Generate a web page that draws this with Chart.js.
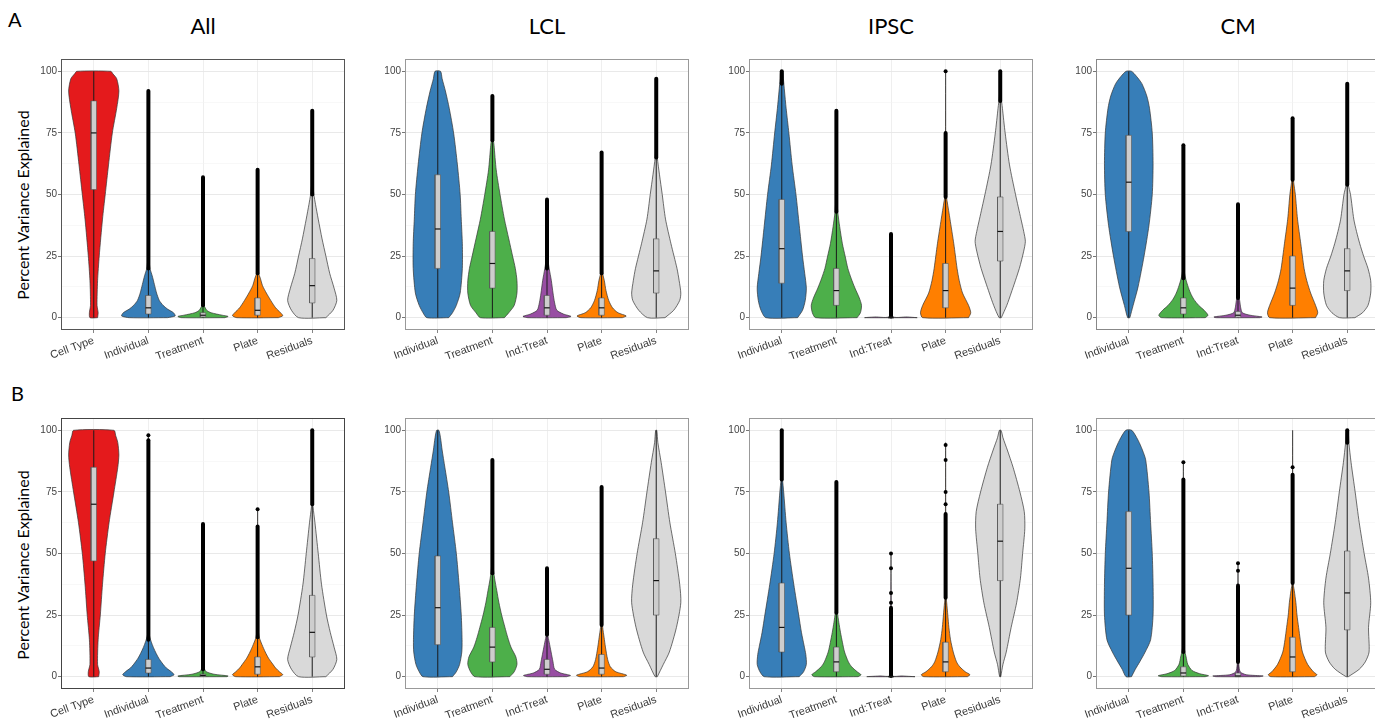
<!DOCTYPE html>
<html>
<head>
<meta charset="utf-8">
<script src="https://cdn.jsdelivr.net/npm/chart.js@4.4.1/dist/chart.umd.min.js"></script>
<style>
  body { margin: 0; width: 1375px; height: 721px; overflow: hidden; background: #fff; position: relative; }
  .panel { position: absolute; }
  .lbl { position: absolute; font-family: Lato, 'Liberation Sans', sans-serif; color: #000; white-space: nowrap; }
  .tag { font-size: 20px; }
  .ctitle { font-size: 22px; transform: translateX(-50%); }
  .ytitle { font-size: 16px; transform: translate(-50%, -50%) rotate(-90deg); }
</style>
</head>
<body>
<div class="lbl tag" style="left:8px;top:7px">A</div>
<div class="lbl tag" style="left:11px;top:381px">B</div>
<div class="lbl ctitle" style="left:203px;top:12px">All</div>
<div class="lbl ctitle" style="left:547px;top:12px">LCL</div>
<div class="lbl ctitle" style="left:891px;top:12px">IPSC</div>
<div class="lbl ctitle" style="left:1238px;top:12px">CM</div>
<div class="lbl ytitle" style="left:22px;top:205px">Percent Variance Explained</div>
<div class="lbl ytitle" style="left:22px;top:565px">Percent Variance Explained</div>

<script>
// Categories
const CATS_ALL = ['Cell Type', 'Individual', 'Treatment', 'Plate', 'Residuals'];
const CATS_TYPE = ['Individual', 'Treatment', 'Ind:Treat', 'Plate', 'Residuals'];
const Y_TICKS = [0, 12.5, 25, 37.5, 50, 62.5, 75, 87.5, 100];

const COLORS = {
    'Cell Type': '#E41A1C',
    'Individual': '#377EB8',
    'Treatment': '#4DAF4A',
    'Ind:Treat': '#984EA3',
    'Plate': '#FF7F00',
    'Residuals': '#D9D9D9'
};

// violin profiles: [value, half width] from bottom to top, one list per category

// A / All
const A_ALL_VIOLIN = [
    [[0,0.07],[2,0.08],[5,0.06],[15,0.07],[25,0.10],[40,0.16],[50,0.21],[62,0.27],[75,0.34],[85,0.42],[92,0.46],[97,0.42],[99,0.35],[100,0.31]],
    [[0,0.35],[0.7,0.49],[2,0.46],[3.5,0.35],[5,0.27],[7,0.20],[10,0.15],[13.5,0.11],[17,0.07],[20,0.03],[24,0.01],[30,0.004],[92,0.002]],
    [[0,0.40],[0.5,0.46],[1,0.35],[2,0.15],[3,0.07],[5,0.02],[8,0.006],[57,0]],
    [[0,0.38],[0.8,0.46],[2,0.42],[4,0.33],[7,0.24],[10,0.16],[13,0.09],[16,0.05],[18,0.02],[25,0.005],[60,0]],
    [[0,0.25],[3,0.38],[7,0.45],[12,0.40],[18,0.32],[25,0.25],[32,0.18],[40,0.11],[46,0.06],[50,0.03],[55,0.01],[84,0.003]]
];
const A_ALL_Q1 = [52, 1.5, 0.3, 1, 6];
const A_ALL_MED = [75, 4, 1, 3, 13];
const A_ALL_Q3 = [88, 9, 2, 8, 24];
const A_ALL_WHI = [100, 20, 5, 18, 50];
const A_ALL_OUT = [null, 92, 57, 60, 84];
const A_ALL_PTS = [[], [], [], [], []];

// A / LCL
const A_LCL_VIOLIN = [
    [[0,0.2],[2,0.27],[5,0.34],[10,0.41],[20,0.45],[30,0.45],[40,0.43],[50,0.41],[62,0.36],[75,0.29],[85,0.21],[92,0.14],[97,0.08],[100,0.05]],
    [[0,0.22],[2,0.30],[5,0.40],[10,0.45],[15,0.45],[20,0.42],[25,0.37],[32,0.30],[40,0.22],[50,0.14],[60,0.07],[70,0.03],[74,0.01],[90,0.002]],
    [[0,0.35],[0.5,0.44],[1.5,0.30],[3,0.18],[6,0.14],[10,0.11],[15,0.08],[20,0.04],[25,0.01],[48,0]],
    [[0,0.38],[0.7,0.45],[2,0.30],[4,0.20],[7,0.13],[11,0.08],[15,0.05],[18,0.02],[25,0.005],[67,0]],
    [[0,0.16],[3,0.32],[7,0.43],[10,0.45],[15,0.42],[20,0.38],[30,0.27],[40,0.17],[50,0.11],[58,0.06],[65,0.02],[72,0.006],[97,0]]
];
const A_LCL_Q1 = [20, 12, 1, 1, 10];
const A_LCL_MED = [36, 22, 4, 4, 19];
const A_LCL_Q3 = [58, 35, 9, 8, 32];
const A_LCL_WHI = [100, 72, 20, 18, 65];
const A_LCL_OUT = [null, 90, 48, 67, 97];
const A_LCL_PTS = [[], [], [], [], []];

// A / IPSC
const A_IPSC_VIOLIN = [
    [[0,0.29],[3,0.38],[7,0.43],[12,0.45],[18,0.42],[25,0.38],[37.5,0.32],[50,0.26],[62,0.19],[75,0.13],[85,0.08],[92,0.05],[97,0.03],[100,0.02]],
    [[0,0.38],[2,0.44],[5,0.46],[8,0.42],[12,0.34],[16,0.27],[20,0.21],[25,0.16],[30,0.11],[37,0.06],[43,0.025],[50,0.008],[84,0]],
    [[0,0.48],[0.3,0.3],[0.8,0.02],[34,0]],
    [[0,0.42],[2,0.46],[5,0.42],[10,0.31],[15,0.25],[20,0.21],[30,0.15],[40,0.08],[47,0.03],[50,0.01],[75,0.002],[100,0]],
    [[0,0.02],[5,0.12],[10,0.2],[20,0.35],[27,0.43],[31,0.46],[35,0.43],[40,0.38],[50,0.28],[62,0.17],[75,0.09],[85,0.04],[90,0.015],[100,0.005]]
];
const A_IPSC_Q1 = [14, 5, 0, 4, 23];
const A_IPSC_MED = [28, 11, 0, 11, 35];
const A_IPSC_Q3 = [48, 20, 0.2, 22, 49];
const A_IPSC_WHI = [95, 43, 0.5, 49, 88];
const A_IPSC_OUT = [100, 84, 34, 75, 100];
const A_IPSC_PTS = [[], [], [], [100], []];

// A / CM
const A_CM_VIOLIN = [
    [[0,0.02],[5,0.08],[12.5,0.17],[25,0.28],[37.5,0.37],[50,0.43],[62.5,0.445],[75,0.43],[85,0.38],[90,0.33],[95,0.24],[98,0.14],[100,0.05]],
    [[0,0.40],[1,0.45],[3,0.38],[5,0.28],[7.5,0.19],[10,0.13],[13,0.08],[16,0.04],[20,0.01],[70,0]],
    [[0,0.40],[0.3,0.44],[1,0.22],[2,0.08],[4,0.05],[7,0.03],[9,0.01],[46,0]],
    [[0,0.42],[2,0.46],[5,0.42],[10,0.33],[15,0.26],[20,0.21],[30,0.15],[40,0.09],[50,0.05],[55,0.02],[60,0.006],[81,0]],
    [[0,0.14],[2,0.28],[5,0.38],[10,0.43],[15,0.43],[20,0.38],[25,0.30],[30,0.23],[35,0.17],[40,0.12],[50,0.06],[54,0.02],[60,0.006],[95,0]]
];
const A_CM_Q1 = [35, 1.5, 0.2, 5, 11];
const A_CM_MED = [55, 4, 1, 12, 19];
const A_CM_Q3 = [74, 8, 2.5, 25, 28];
const A_CM_WHI = [100, 16, 8, 56, 54];
const A_CM_OUT = [null, 70, 46, 81, 95];
const A_CM_PTS = [[], [], [], [], []];

// B / All
const B_ALL_VIOLIN = [
    [[0,0.09],[2,0.10],[5,0.07],[15,0.08],[25,0.12],[37.5,0.16],[50,0.21],[62.5,0.28],[75,0.37],[85,0.44],[90,0.46],[95,0.44],[98,0.40],[100,0.37]],
    [[0,0.40],[0.8,0.47],[2,0.42],[3.5,0.33],[5,0.27],[7.5,0.19],[10,0.13],[12.5,0.08],[15,0.04],[18,0.01],[98,0]],
    [[0,0.44],[0.3,0.46],[1,0.2],[2,0.06],[3,0.03],[5,0.01],[62,0]],
    [[0,0.40],[0.8,0.46],[2,0.40],[3.5,0.33],[5,0.28],[7.5,0.20],[10,0.14],[13,0.08],[16,0.03],[20,0.008],[68,0]],
    [[0,0.25],[3,0.38],[7,0.45],[12,0.40],[18,0.33],[25,0.26],[37.5,0.17],[50,0.11],[62.5,0.05],[69,0.015],[75,0.004],[100,0]]
];
const B_ALL_Q1 = [47, 1.5, 0.1, 1, 8];
const B_ALL_MED = [70, 3.5, 0.5, 4, 18];
const B_ALL_Q3 = [85, 7, 1, 8, 33];
const B_ALL_WHI = [100, 15, 3, 16, 70];
const B_ALL_OUT = [null, 96, 62, 61, 100];
const B_ALL_PTS = [[], [98], [], [68], []];

// B / LCL
const B_LCL_VIOLIN = [
    [[0,0.27],[2,0.34],[5,0.40],[10,0.44],[15,0.445],[25,0.43],[37.5,0.39],[50,0.34],[62.5,0.27],[75,0.20],[85,0.13],[92,0.08],[97,0.05],[100,0.02]],
    [[0,0.32],[2,0.40],[5,0.45],[8,0.43],[12,0.34],[16,0.28],[20,0.23],[25,0.17],[30,0.12],[35,0.08],[40,0.04],[45,0.015],[88,0]],
    [[0,0.36],[0.5,0.43],[1.5,0.25],[3,0.14],[6,0.11],[10,0.075],[14,0.04],[17,0.015],[44,0]],
    [[0,0.40],[0.6,0.46],[2,0.26],[4,0.16],[7,0.11],[12,0.07],[16,0.045],[20,0.02],[24,0.006],[77,0]],
    [[0,0.02],[5,0.13],[10,0.24],[20,0.37],[30,0.45],[37.5,0.43],[50,0.35],[62.5,0.25],[75,0.17],[87,0.09],[95,0.03],[100,0.01]]
];
const B_LCL_Q1 = [13, 6, 1, 1, 25];
const B_LCL_MED = [28, 12, 3, 3.5, 39];
const B_LCL_Q3 = [49, 20, 7, 9, 56];
const B_LCL_WHI = [100, 42, 17, 21, 100];
const B_LCL_OUT = [null, 88, 44, 77, null];
const B_LCL_PTS = [[], [], [], [], []];

// B / IPSC
const B_IPSC_VIOLIN = [
    [[0,0.32],[2,0.40],[5,0.45],[9,0.44],[12.5,0.41],[18,0.36],[25,0.31],[37.5,0.22],[50,0.14],[62.5,0.08],[75,0.035],[80,0.015],[85,0.005],[100,0]],
    [[0,0.40],[0.8,0.45],[2,0.38],[4,0.28],[6,0.22],[10,0.15],[14,0.11],[18,0.075],[22,0.045],[26,0.02],[30,0.006],[79,0]],
    [[0,0.44],[0.3,0.2],[0.6,0.02],[50,0]],
    [[0,0.40],[0.8,0.445],[2,0.36],[4,0.26],[6,0.20],[10,0.14],[15,0.09],[20,0.06],[25,0.04],[30,0.02],[33,0.008],[95,0]],
    [[0,0.01],[5,0.05],[10,0.11],[20,0.20],[30,0.30],[40,0.37],[50,0.41],[60,0.45],[67,0.44],[75,0.36],[85,0.235],[92,0.13],[97,0.05],[100,0.015]]
];
const B_IPSC_Q1 = [10, 2, 0, 2, 39];
const B_IPSC_MED = [20, 6, 0, 6, 55];
const B_IPSC_Q3 = [38, 12, 0.1, 14, 70];
const B_IPSC_WHI = [80, 26, 0.3, 32, 100];
const B_IPSC_OUT = [100, 79, 28, 66, null];
const B_IPSC_PTS = [[], [], [30, 34, 44, 50], [70, 75, 88, 94], []];

// B / CM
const B_CM_VIOLIN = [
    [[0,0.05],[3,0.12],[6,0.20],[10,0.30],[15,0.40],[25,0.445],[37.5,0.445],[50,0.43],[62.5,0.40],[75,0.37],[88,0.31],[92,0.25],[96,0.17],[100,0.055]],
    [[0,0.40],[0.4,0.46],[1.2,0.30],[2.5,0.16],[5,0.08],[8,0.05],[11,0.02],[14,0.006],[87,0]],
    [[0,0.40],[0.3,0.46],[0.8,0.15],[2,0.04],[5,0.015],[8,0.005],[46,0]],
    [[0,0.40],[0.8,0.445],[2,0.38],[5,0.275],[10,0.18],[15,0.14],[20,0.11],[25,0.08],[30,0.06],[35,0.03],[38,0.01],[100,0]],
    [[0,0.02],[3,0.22],[6,0.33],[10,0.40],[20,0.39],[30,0.43],[40,0.39],[50,0.31],[62.5,0.22],[75,0.145],[87,0.07],[95,0.03],[100,0.015]]
];
const B_CM_Q1 = [25, 0.3, 0, 2, 19];
const B_CM_MED = [44, 1.5, 0.3, 8, 34];
const B_CM_Q3 = [67, 4, 1.5, 16, 51];
const B_CM_WHI = [100, 10, 6, 38, 95];
const B_CM_OUT = [null, 80, 37, 82, 100];
const B_CM_PTS = [[], [87], [43, 46], [85], []];

const PANELS = [
    { left: 61,   top: 57,  border: '#555', cats: CATS_ALL,  violin: A_ALL_VIOLIN,  q1: A_ALL_Q1,  med: A_ALL_MED,  q3: A_ALL_Q3,  whi: A_ALL_WHI,  out: A_ALL_OUT,  pts: A_ALL_PTS },
    { left: 405,  top: 57,  border: '#999', cats: CATS_TYPE, violin: A_LCL_VIOLIN,  q1: A_LCL_Q1,  med: A_LCL_MED,  q3: A_LCL_Q3,  whi: A_LCL_WHI,  out: A_LCL_OUT,  pts: A_LCL_PTS },
    { left: 749,  top: 57,  border: '#999', cats: CATS_TYPE, violin: A_IPSC_VIOLIN, q1: A_IPSC_Q1, med: A_IPSC_MED, q3: A_IPSC_Q3, whi: A_IPSC_WHI, out: A_IPSC_OUT, pts: A_IPSC_PTS },
    { left: 1096, top: 57,  border: '#888', cats: CATS_TYPE, violin: A_CM_VIOLIN,   q1: A_CM_Q1,   med: A_CM_MED,   q3: A_CM_Q3,   whi: A_CM_WHI,   out: A_CM_OUT,   pts: A_CM_PTS },
    { left: 61,   top: 416, border: '#444', cats: CATS_ALL,  violin: B_ALL_VIOLIN,  q1: B_ALL_Q1,  med: B_ALL_MED,  q3: B_ALL_Q3,  whi: B_ALL_WHI,  out: B_ALL_OUT,  pts: B_ALL_PTS },
    { left: 405,  top: 416, border: '#999', cats: CATS_TYPE, violin: B_LCL_VIOLIN,  q1: B_LCL_Q1,  med: B_LCL_MED,  q3: B_LCL_Q3,  whi: B_LCL_WHI,  out: B_LCL_OUT,  pts: B_LCL_PTS },
    { left: 749,  top: 416, border: '#999', cats: CATS_TYPE, violin: B_IPSC_VIOLIN, q1: B_IPSC_Q1, med: B_IPSC_MED, q3: B_IPSC_Q3, whi: B_IPSC_WHI, out: B_IPSC_OUT, pts: B_IPSC_PTS },
    { left: 1096, top: 416, border: '#999', cats: CATS_TYPE, violin: B_CM_VIOLIN,   q1: B_CM_Q1,   med: B_CM_MED,   q3: B_CM_Q3,   whi: B_CM_WHI,   out: B_CM_OUT,   pts: B_CM_PTS }
];

const PLOT_W = 284, PLOT_H = 273;
const AXIS_W = 45, AXIS_H = 45, PAD_T = 5, PAD_R = 6;
const BOX_HW = 0.05;
const TICK_FONT = { family: "'Liberation Sans', Arial, sans-serif", size: 10 };
const CAT_FONT = { family: "'Liberation Sans', Arial, sans-serif", size: 11 };

// panel border drawn over the data, like ggplot's panel.border
const panelBorder = {
    id: 'panelBorder',
    afterDatasetsDraw(chart, args, opts) {
        const { ctx, chartArea: a } = chart;
        ctx.save();
        ctx.strokeStyle = opts.color || '#999';
        ctx.lineWidth = 1;
        ctx.strokeRect(a.left + 0.5, a.top + 0.5, a.width - 1, a.height - 1);
        ctx.restore();
    }
};

function outline(c, prof) {
    const right = prof.map(p => ({ x: c + p[1], y: p[0] }));
    const left = prof.slice().reverse().map(p => ({ x: c - p[1], y: p[0] }));
    const pts = right.concat(left);
    pts.push(pts[0]);
    return pts;
}

function buildDatasets(p) {
    const sets = [];
    p.cats.forEach((cat, i) => {
        const c = i + 1;
        const prof = p.violin[i];
        sets.push({
            data: outline(c, prof), fill: 'shape', backgroundColor: COLORS[cat],
            borderColor: '#333', borderWidth: 0.7, tension: 0.25, order: 6
        });
        sets.push({
            data: [{ x: c, y: prof[0][0] }, { x: c, y: p.whi[i] }],
            borderColor: '#1a1a1a', borderWidth: 1, fill: false, order: 5
        });
        if (p.out[i] !== null) {
            sets.push({
                data: [{ x: c, y: p.whi[i] }, { x: c, y: p.out[i] }],
                borderColor: '#000', borderWidth: 4, borderCapStyle: 'round', fill: false, order: 4
            });
        }
        const box = [
            { x: c - BOX_HW, y: p.q1[i] }, { x: c + BOX_HW, y: p.q1[i] },
            { x: c + BOX_HW, y: p.q3[i] }, { x: c - BOX_HW, y: p.q3[i] }, { x: c - BOX_HW, y: p.q1[i] }
        ];
        sets.push({
            data: box, fill: 'shape', backgroundColor: '#cdcdcd',
            borderColor: '#555', borderWidth: 0.6, tension: 0, order: 3
        });
        sets.push({
            data: [{ x: c - BOX_HW, y: p.med[i] }, { x: c + BOX_HW, y: p.med[i] }],
            borderColor: '#111', borderWidth: 1.2, fill: false, order: 2
        });
        if (p.pts[i].length) {
            sets.push({
                data: p.pts[i].map(v => ({ x: c, y: v })), showLine: false,
                pointRadius: 2, pointBackgroundColor: '#000', pointBorderWidth: 0, order: 1
            });
        }
    });
    return sets;
}

function initPanel(p) {
    const div = document.createElement('div');
    div.className = 'panel';
    const w = AXIS_W + PLOT_W + PAD_R, h = PAD_T + PLOT_H + AXIS_H;
    div.style.left = (p.left - AXIS_W) + 'px';
    div.style.top = (p.top - PAD_T) + 'px';
    div.style.width = w + 'px';
    div.style.height = h + 'px';
    const cv = document.createElement('canvas');
    cv.width = w;
    cv.height = h;
    div.appendChild(cv);
    document.body.appendChild(div);

    new Chart(cv.getContext('2d'), {
        type: 'line',
        data: { datasets: buildDatasets(p) },
        options: {
            responsive: false,
            animation: false,
            layout: { padding: { top: PAD_T, right: PAD_R, left: 0, bottom: 0 } },
            elements: { point: { radius: 0 } },
            plugins: {
                legend: { display: false },
                tooltip: { enabled: false },
                panelBorder: { color: p.border }
            },
            scales: {
                x: {
                    type: 'linear', min: 0.4, max: 5.6,
                    afterBuildTicks: s => { s.ticks = p.cats.map((_, i) => ({ value: i + 1 })); },
                    afterFit: s => { s.height = AXIS_H; },
                    ticks: {
                        callback: (v, i) => p.cats[i], autoSkip: false,
                        minRotation: 20, maxRotation: 20, padding: 1,
                        font: CAT_FONT, color: '#3a3a3a'
                    },
                    grid: { color: '#ebebeb', lineWidth: 0.8, tickLength: 3, tickColor: '#666' },
                    border: { display: false }
                },
                y: {
                    min: -5, max: 105,
                    afterBuildTicks: s => { s.ticks = Y_TICKS.map(v => ({ value: v })); },
                    afterFit: s => { s.width = AXIS_W; },
                    ticks: {
                        callback: v => (v % 25 === 0 ? String(v) : ''),
                        padding: 1, font: TICK_FONT, color: '#444'
                    },
                    grid: {
                        color: ctx => (ctx.tick && ctx.tick.value % 25 === 0 ? '#e6e6e6' : '#f3f3f3'),
                        lineWidth: ctx => (ctx.tick && ctx.tick.value % 25 === 0 ? 0.9 : 0.6),
                        tickLength: 3,
                        tickColor: ctx => (ctx.tick && ctx.tick.value % 25 === 0 ? '#666' : 'rgba(0,0,0,0)')
                    },
                    border: { display: false }
                }
            }
        },
        plugins: [panelBorder]
    });
}

document.addEventListener('DOMContentLoaded', () => {
    PANELS.forEach(initPanel);
});
</script>
</body>
</html>
